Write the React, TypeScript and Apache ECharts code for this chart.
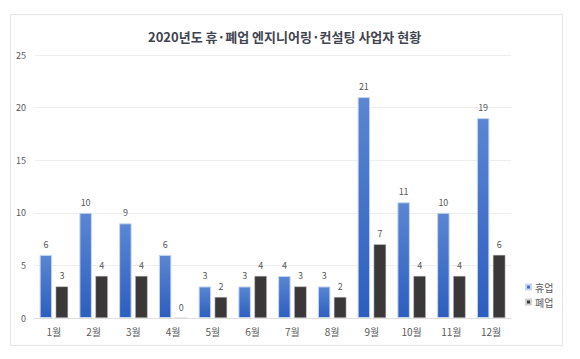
import React, { useEffect, useRef } from "react";
import * as echarts from "echarts";

const months = ["1월", "2월", "3월", "4월", "5월", "6월", "7월", "8월", "9월", "10월", "11월", "12월"];
const suspend = [6, 10, 9, 6, 3, 3, 4, 3, 21, 11, 10, 19];
const closed = [3, 4, 4, 0, 2, 4, 3, 2, 7, 4, 4, 6];
const seriesNames = ["휴업", "폐업"];
const titleText = "2020년도 휴·폐업 엔지니어링·컨설팅 사업자 현황";

const FONT = "'Noto Sans CJK KR', 'Noto Sans', sans-serif";

export default function App() {
  const ref = useRef<HTMLDivElement>(null);
  useEffect(() => {
    document.body.style.margin = "0";
    const chart = echarts.init(ref.current!, null, { renderer: "svg" });
    const labelStyle = {
      show: true,
      position: "top" as const,
      color: "#595959",
      fontSize: 9,
      fontFamily: FONT,
      distance: 6,
    };
    chart.setOption({
      animation: false,
      backgroundColor: "#ffffff",
      textStyle: { fontFamily: FONT },
      title: {
        text: titleText,
        left: 143,
        top: 25,
        textStyle: { fontSize: 13, fontWeight: "bold", color: "#3f4450", fontFamily: FONT },
      },
      graphic: [
        {
          type: "rect",
          shape: { x: 10.5, y: 14.5, width: 552, height: 331 },
          style: { fill: "none", stroke: "#e4e4e4", lineWidth: 1 },
          silent: true,
        },
      ],
      legend: {
        orient: "vertical",
        left: 520,
        top: 277,
        itemWidth: 5,
        itemHeight: 5,
        itemGap: 5,
        icon: "rect",
        textStyle: { fontSize: 10, color: "#595959", fontFamily: FONT, padding: [0, 0, 0, -1] },
        data: seriesNames,
      },
      grid: { left: 34, right: 69, top: 55, bottom: 41, containLabel: false },
      xAxis: {
        type: "category",
        data: months,
        axisLine: { show: true, lineStyle: { color: "#e0e0e0" } },
        axisTick: { show: false },
        axisLabel: { color: "#595959", fontSize: 10, margin: 8, fontFamily: FONT },
      },
      yAxis: {
        type: "value",
        min: 0,
        max: 25,
        interval: 5,
        axisLine: { show: false },
        axisTick: { show: false },
        splitLine: { lineStyle: { color: "#eeeeee" } },
        axisLabel: { color: "#595959", fontSize: 9, margin: 8, fontFamily: FONT },
      },
      series: [
        {
          name: seriesNames[0],
          type: "bar",
          data: suspend,
          barWidth: 12.5,
          barGap: "28%",
          itemStyle: {
            color: new echarts.graphic.LinearGradient(0, 0, 0, 1, [
              { offset: 0, color: "#5a86d3" },
              { offset: 1, color: "#2c5ebf" },
            ]),
            borderColor: "#c9d6ef",
            borderWidth: 1,
          },
          label: labelStyle,
        },
        {
          name: seriesNames[1],
          type: "bar",
          data: closed,
          barWidth: 12.5,
          itemStyle: { color: "#3a3838", borderColor: "#d0d0d0", borderWidth: 0.5 },
          label: labelStyle,
        },
      ],
    });
    return () => chart.dispose();
  }, []);
  return <div ref={ref} style={{ width: 580, height: 359 }} />;
}
